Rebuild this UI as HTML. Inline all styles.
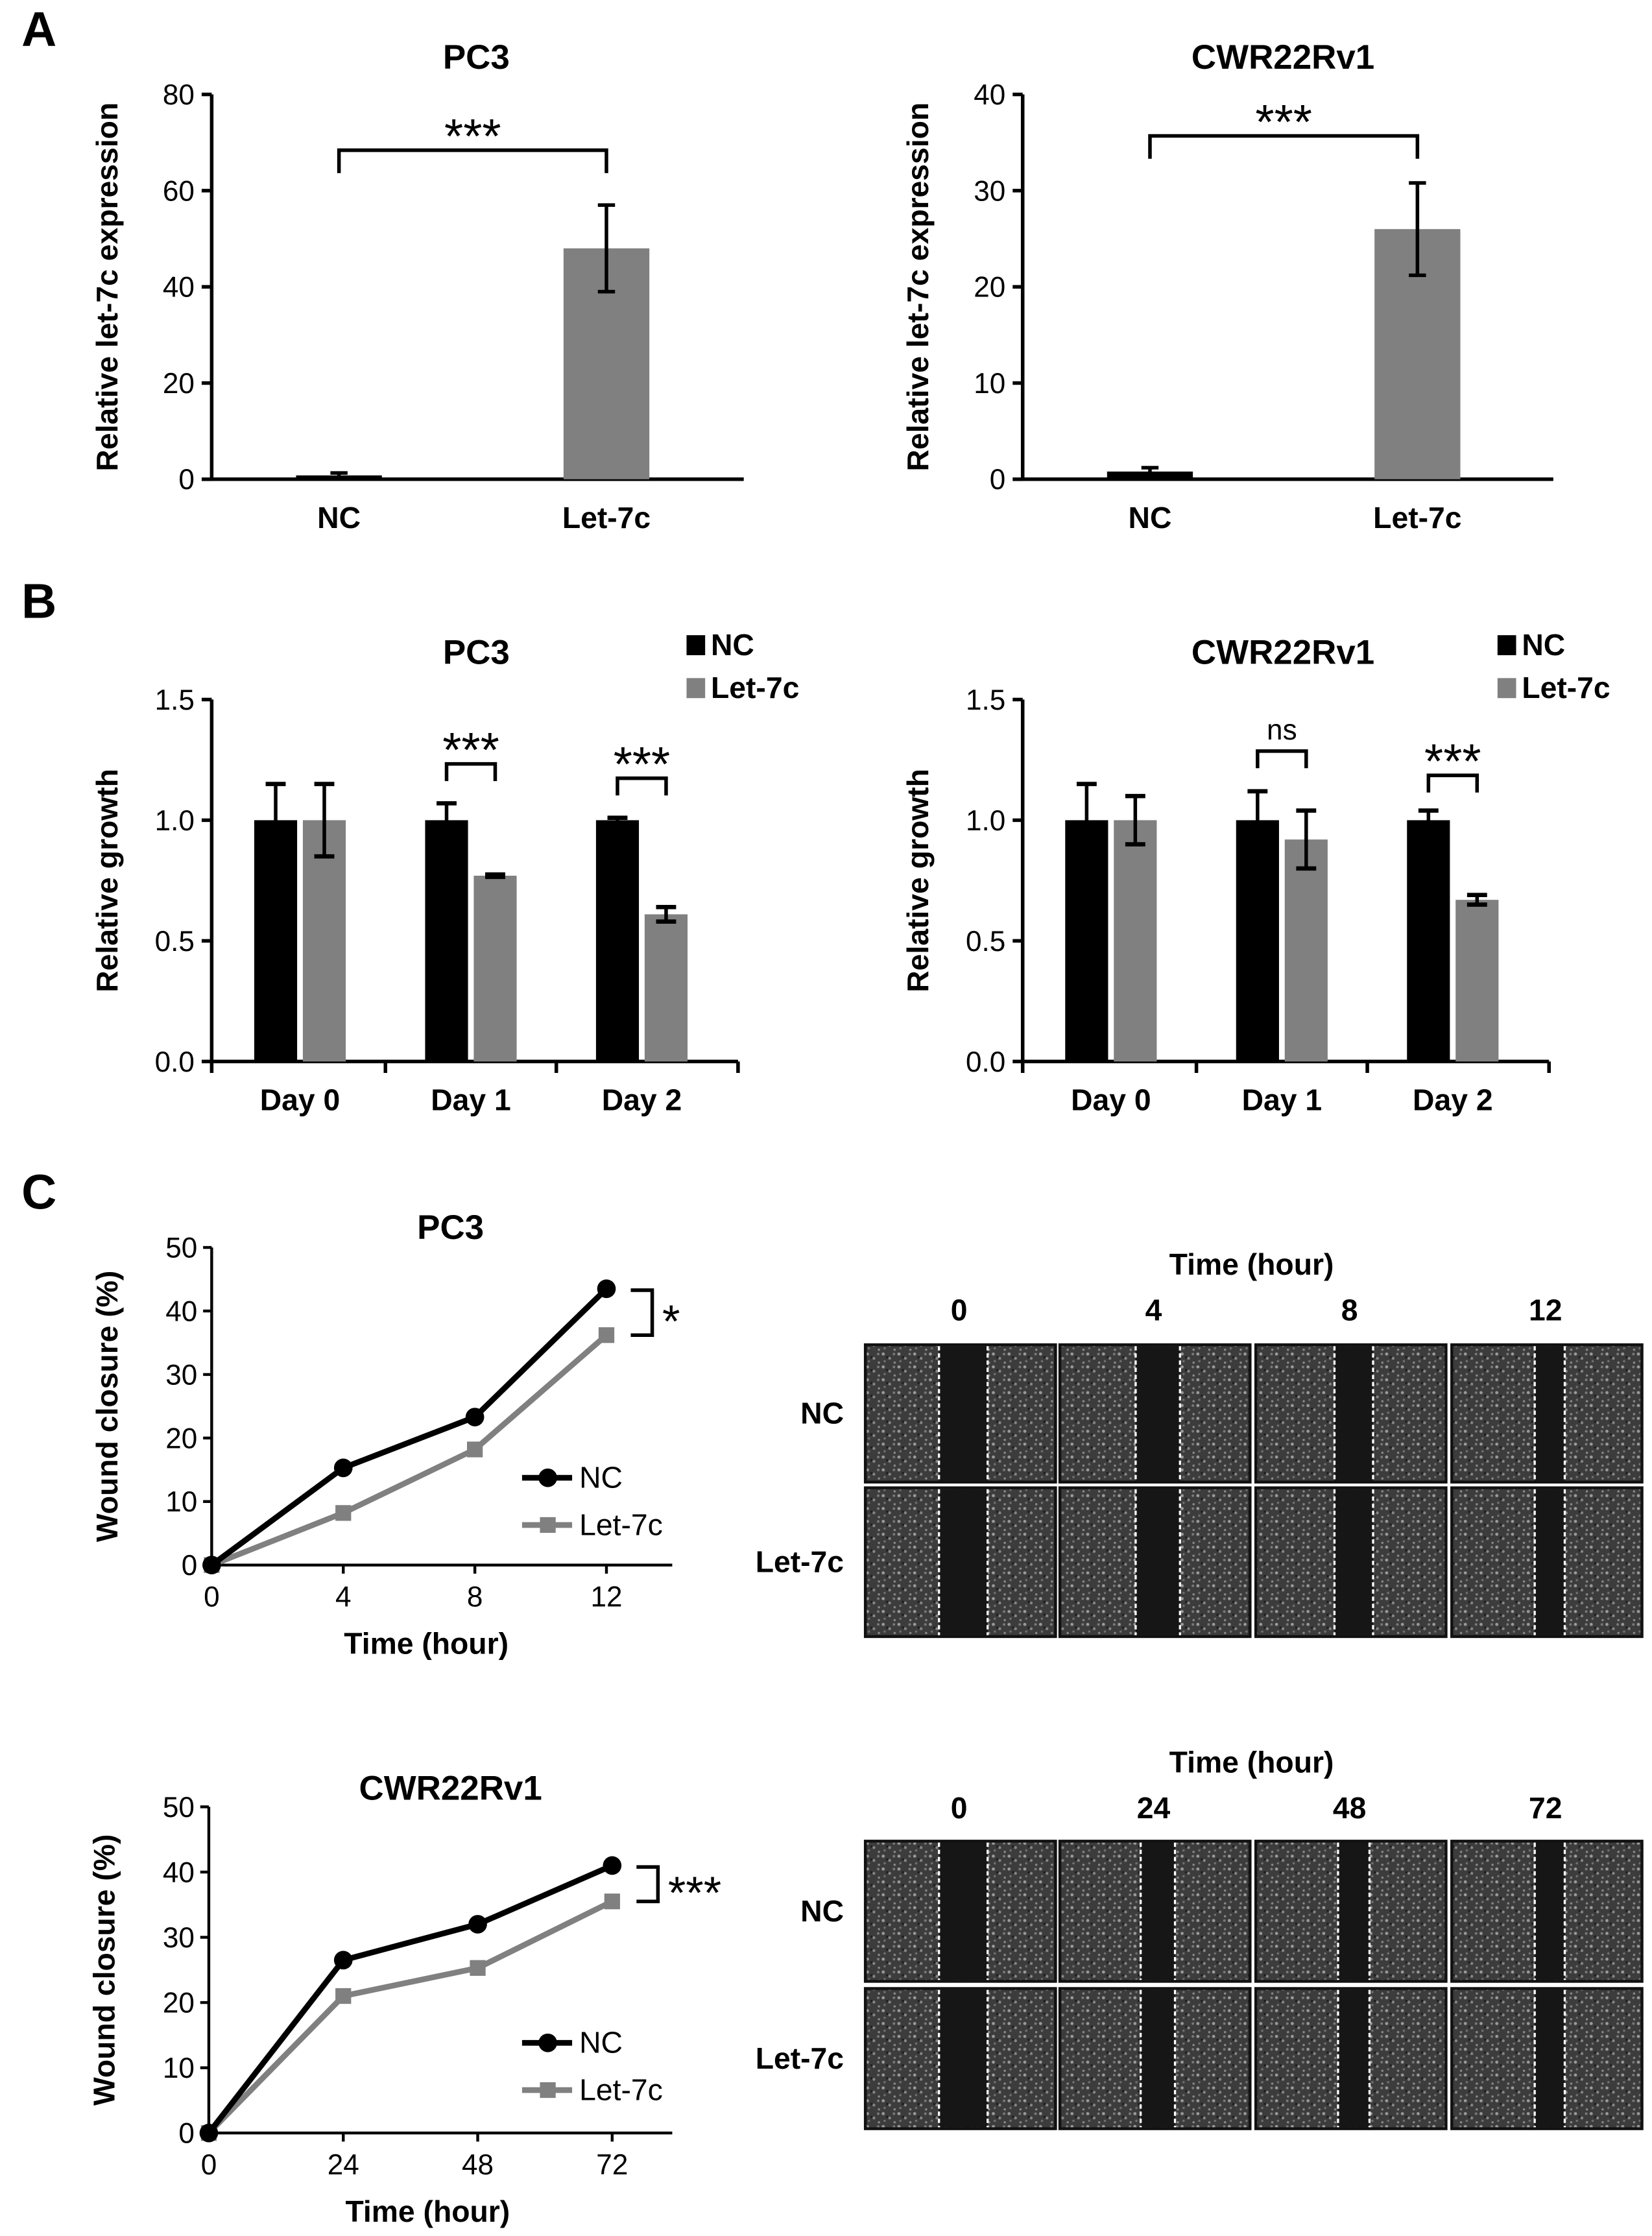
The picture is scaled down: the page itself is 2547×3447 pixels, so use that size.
<!DOCTYPE html>
<html><head><meta charset="utf-8"><style>
html,body{margin:0;padding:0;background:#fff}
svg{display:block}
text{font-family:"Liberation Sans",Arial,sans-serif}
</style></head><body>
<svg id="fig" xmlns="http://www.w3.org/2000/svg" width="2547" height="3447" viewBox="0 0 1155 1563" preserveAspectRatio="none">
<defs>
<pattern id="cells" width="11" height="9" patternUnits="userSpaceOnUse">
<rect width="11" height="9" fill="#3c3c3c"/>
<circle cx="1.5" cy="1.5" r="1.1" fill="#9a9a9a"/>
<circle cx="6" cy="4.5" r="1" fill="#858585"/>
<circle cx="2.5" cy="6.5" r="0.8" fill="#707070"/>
<circle cx="9" cy="1.5" r="0.9" fill="#7a7a7a"/>
<circle cx="9.5" cy="7.5" r="0.8" fill="#8a8a8a"/>
<rect x="3.5" y="3" width="1.5" height="1.5" fill="#1e1e1e"/>
</pattern>
</defs>
<g id="root"></g>
</svg>
<script>
// ---------- data ----------
const aCats = ["NC","Let-7c"];
const aPC3 = [0.8, 48];
const aPC3Err = [0.5, 9];
const aCWR = [0.8, 26];
const aCWRErr = [0.4, 4.8];
const aPC3Ticks = [0,20,40,60,80];
const aCWRTicks = [0,10,20,30,40];

const bCats = ["Day 0","Day 1","Day 2"];
const bPC3NC = [1,1,1];
const bPC3NCErr = [0.15,0.07,0.01];
const bPC3Let = [1,0.77,0.61];
const bPC3LetErr = [0.15,0.005,0.03];
const bCWRNC = [1,1,1];
const bCWRNCErr = [0.15,0.12,0.04];
const bCWRLet = [1,0.92,0.67];
const bCWRLetErr = [0.1,0.12,0.02];
const bTicks = [0,0.5,1.0,1.5];
const bTickLabels = ["0.0","0.5","1.0","1.5"];

const cPC3Time = [0,4,8,12];
const cPC3NC = [0,15.3,23.3,43.5];
const cPC3Let = [0,8.2,18.2,36.2];
const cCWRTime = [0,24,48,72];
const cCWRNC = [0,26.5,32,41];
const cCWRLet = [0,21,25.3,35.5];
const cTicks = [0,10,20,30,40,50];

const imgTimesPC3 = ["0","4","8","12"];
const imgTimesCWR = ["0","24","48","72"];
const gapPC3 = [34,31,27,21];
const gapCWR = [34,24,22,21];

// ---------- helpers ----------
const NS="http://www.w3.org/2000/svg";
const root=document.getElementById('root');
function mk(tag,attrs,parent,txt){const e=document.createElementNS(NS,tag);for(const k in attrs)e.setAttribute(k,attrs[k]);if(txt!==undefined)e.textContent=txt;(parent||root).appendChild(e);return e;}
function line(x1,y1,x2,y2,w,c,p){return mk('line',{x1,y1,x2,y2,stroke:c||'#000','stroke-width':w||2.5},p);}
function txt(x,y,s,size,opt,p){opt=opt||{};const e=mk('text',{x,y,'font-size':size,'font-weight':opt.bold===false?'normal':'bold','text-anchor':opt.anchor||'middle',fill:'#000'},p,s);if(opt.rot)e.setAttribute('transform','rotate(-90 '+x+' '+y+')');return e;}

// panel letters
[["A",15,32],["B",15,432],["C",15,845]].forEach(l=>{const t=txt(l[1],l[2],l[0],34,{anchor:'start'});

});

// ---------- Panel A ----------
function panelA(ax,x0,x1,yTop,yBot,ticks,vals,errs,title,titleX,brY,name){
  const g=mk('g',{},root);
  
  
  const max=ticks[ticks.length-1];
  const y=v=>yBot-(v/max)*(yBot-yTop);
  const xs=[x0+89,x0+276];
  line(x0,yTop,x0,yBot+1,2.5,'#000',g);
  line(x0-1,yBot,x1,yBot,2.5,'#000',g);
  ticks.forEach(t=>{line(x0-7,y(t),x0,y(t),2.5,'#000',g);const tl=txt(x0-12,y(t)+7,String(t),20,{anchor:'end',bold:false},g);
    });
  vals.forEach((v,i)=>{
    const b=mk('rect',{x:xs[i]-30,y:y(v),width:60,height:yBot-y(v),fill:i?'#808080':'#000'},g);
    
    
    const e1=y(v+errs[i]),e2=y(v-errs[i]);
    line(xs[i],e1,xs[i],e2,2.5,'#000',g);line(xs[i]-6,e1,xs[i]+6,e1,2.5,'#000',g);line(xs[i]-6,e2,xs[i]+6,e2,2.5,'#000',g);
    const xl=txt(xs[i],369,aCats[i],21,{},g);
    
  });
  mk('path',{d:`M${xs[0]} ${brY+16}V${brY}H${xs[1]}V${brY+16}`,fill:'none',stroke:'#000','stroke-width':2.5},g);
  const s=txt((xs[0]+xs[1])/2,brY+2,'***',34,{bold:false},g);
  
  const tt=txt(titleX,48,title,24,{},g);
  
  const yl=txt(x0-66,(yTop+yBot)/2,'Relative let-7c expression',21,{rot:true},g);
  
}
panelA(0,148,520,66,335,aPC3Ticks,aPC3,aPC3Err,'PC3',333,105,'chart-a-pc3');
panelA(0,715,1086,66,335,aCWRTicks,aCWR,aCWRErr,'CWR22Rv1',897,95,'chart-a-cwr22rv1');

// ---------- Panel B ----------
function panelB(x0,x1,nc,ncE,le,leE,title,titleX,brs,name){
  const g=mk('g',{},root);
  
  
  const yTop=489,yBot=742;
  const y=v=>yBot-(v/1.5)*(yBot-yTop);
  const gw=(x1-x0)/3.08;
  const cx=i=>x0+gw*(i+0.5)+2;
  line(x0,yTop,x0,yBot+1,2.5,'#000',g);
  line(x0-1,yBot,x1,yBot,2.5,'#000',g);
  bTicks.forEach((t,i)=>{line(x0-7,y(t),x0,y(t),2.5,'#000',g);const tl=txt(x0-12,y(t)+7,bTickLabels[i],20,{anchor:'end',bold:false},g);
    });
  for(let i=0;i<=3;i++){const xx=i<3?x0+gw*i+(i?2:0):x1;line(xx,yBot,xx,yBot+8,2.5,'#000',g);}
  bCats.forEach((c,i)=>{
    const xn=cx(i)-17,xl=cx(i)+17;
    [[xn,nc[i],ncE[i],'#000','nc'],[xl,le[i],leE[i],'#808080','let-7c']].forEach(d=>{
      const b=mk('rect',{x:d[0]-15,y:y(d[1]),width:30,height:yBot-y(d[1]),fill:d[3]},g);
      
      
      const e1=y(d[1]+d[2]),e2=y(d[1]-d[2]);
      line(d[0],e1,d[0],e2,2.5,'#000',g);line(d[0]-7,e1,d[0]+7,e1,3,'#000',g);line(d[0]-7,e2,d[0]+7,e2,3,'#000',g);
    });
    const xt=txt(cx(i),776,c,21,{},g);
    
    if(brs[i]){const by=brs[i][0];
      mk('path',{d:`M${xn} ${by+12}V${by}H${xl}V${by+12}`,fill:'none',stroke:'#000','stroke-width':2.5},g);
      const ns=brs[i][1]==='ns';
      const s=txt(cx(i),by-(ns?8:-2),brs[i][1],ns?20:34,{bold:false},g);
      }
  });
  const tt=txt(titleX,464,title,24,{},g);
  
  const yl=txt(x0-66,(yTop+yBot)/2,'Relative growth',21,{rot:true},g);
  
  const lx=x1-36;
  const l1=mk('g',{},g);
  mk('rect',{x:lx,y:444,width:13,height:14,fill:'#000'},l1);txt(lx+17,458,'NC',21,{anchor:'start'},l1);
  const l2=mk('g',{},g);
  mk('rect',{x:lx,y:474,width:13,height:14,fill:'#808080'},l2);txt(lx+17,488,'Let-7c',21,{anchor:'start'},l2);
}
panelB(148,516,bPC3NC,bPC3NCErr,bPC3Let,bPC3LetErr,'PC3',333,[null,[534,'***'],[544,'***']],'chart-b-pc3');
panelB(715,1083,bCWRNC,bCWRNCErr,bCWRLet,bCWRLetErr,'CWR22Rv1',897,[null,[525,'ns'],[542,'***']],'chart-b-cwr22rv1');

// ---------- Panel C line charts ----------
function panelC(x0,xEnd,xMaxPx,yTop,yBot,times,nc,le,title,titleY,brTop,star,legY,name){
  const g=mk('g',{},root);
  
  
  const tMax=times[times.length-1];
  const x=t=>x0+(t/tMax)*(xMaxPx-x0);
  const y=v=>yBot-(v/50)*(yBot-yTop);
  line(x0,yTop,x0,yBot+1,2,'#000',g);
  line(x0-1,yBot,xEnd,yBot,2,'#000',g);
  cTicks.forEach(t=>{line(x0-6,y(t),x0,y(t),2,'#000',g);const tl=txt(x0-10,y(t)+7,String(t),20,{anchor:'end',bold:false},g);
    });
  times.forEach(t=>{line(x(t),yBot,x(t),yBot+6,2,'#000',g);const tl=txt(x(t),yBot+29,String(t),20,{bold:false},g);
    });
  const s2=mk('polyline',{points:times.map((t,i)=>x(t)+','+y(le[i])).join(' '),fill:'none',stroke:'#808080','stroke-width':4},g);
  
  times.forEach((t,i)=>{const m=mk('rect',{x:x(t)-5.5,y:y(le[i])-5.5,width:11,height:11,fill:'#808080'},g);
    });
  const s1=mk('polyline',{points:times.map((t,i)=>x(t)+','+y(nc[i])).join(' '),fill:'none',stroke:'#000','stroke-width':4},g);
  
  times.forEach((t,i)=>{const m=mk('circle',{cx:x(t),cy:y(nc[i]),r:6.5,fill:'#000'},g);
    });
  const bx=x(tMax)+17, yb1=y(nc[nc.length-1])+1, yb2=y(le[le.length-1]);
  mk('path',{d:`M${bx} ${yb1}H${bx+15}V${yb2}H${bx}`,fill:'none',stroke:'#000','stroke-width':2.5},g);
  const st=txt(bx+22,(yb1+yb2)/2+17,star,32,{anchor:'start',bold:false},g);
  
  const tt=txt(315,titleY,title,24,{},g);
  
  const xl=txt((x0+xMaxPx)/2+12,yBot+62,'Time (hour)',21,{},g);
  
  const yl=txt(x0-66,(yTop+yBot)/2,'Wound closure (%)',21,{rot:true},g);
  
  const lg1=mk('g',{},g);
  line(365,legY,400,legY,4,'#000',lg1);mk('circle',{cx:383,cy:legY,r:6.5,fill:'#000'},lg1);txt(405,legY+7,'NC',21,{anchor:'start',bold:false},lg1);
  const lg2=mk('g',{},g);
  line(365,legY+33,400,legY+33,4,'#808080',lg2);mk('rect',{x:377.5,y:legY+27.5,width:11,height:11,fill:'#808080'},lg2);txt(405,legY+40,'Let-7c',21,{anchor:'start',bold:false},lg2);
}
panelC(148,470,424,872,1094,cPC3Time,cPC3NC,cPC3Let,'PC3',866,0,'*',1033,'chart-c-pc3');
panelC(146,470,428,1263,1491,cCWRTime,cCWRNC,cCWRLet,'CWR22Rv1',1258,0,'***',1428,'chart-c-cwr22rv1');

// ---------- microscopy grids ----------
function grid(topY,rows,times,gaps,headerY,name){
  const g=mk('g',{},root);
  
  
  const cols=[605,741,878,1015], w=133;
  const h1=txt(875,headerY,'Time (hour)',21,{},g);
  
  times.forEach((t,i)=>{const tl=txt(cols[i]+w/2-1,headerY+32,t,21,{},g);
    });
  rows.forEach((r,ri)=>{
    const ry=r[0],rh=r[1];
    const rl=txt(r[3],ry+rh/2+7,r[2],21,{anchor:'end'},g);
    
    cols.forEach((cx,ci)=>{
      const im=mk('g',{},g);
      
      
      mk('rect',{x:cx,y:ry,width:w,height:rh,fill:'url(#cells)',stroke:'#111','stroke-width':2},im);
      const gw=gaps[ci], gx=cx+w*0.5-gw/2+2;
      mk('rect',{x:gx,y:ry+1,width:gw,height:rh-2,fill:'#161616'},im);
      line(gx,ry+1,gx,ry+rh-1,1.5,'#fff',im).setAttribute('stroke-dasharray','3 2');
      line(gx+gw,ry+1,gx+gw,ry+rh-1,1.5,'#fff',im).setAttribute('stroke-dasharray','3 2');
    });
  });
}
grid(940,[[940,96,'NC',590],[1040,104,'Let-7c',590]],imgTimesPC3,gapPC3,891,'wound-images-pc3');
grid(1287,[[1287,98,'NC',590],[1390,98,'Let-7c',590]],imgTimesCWR,gapCWR,1239,'wound-images-cwr22rv1');
</script>
</body></html>
